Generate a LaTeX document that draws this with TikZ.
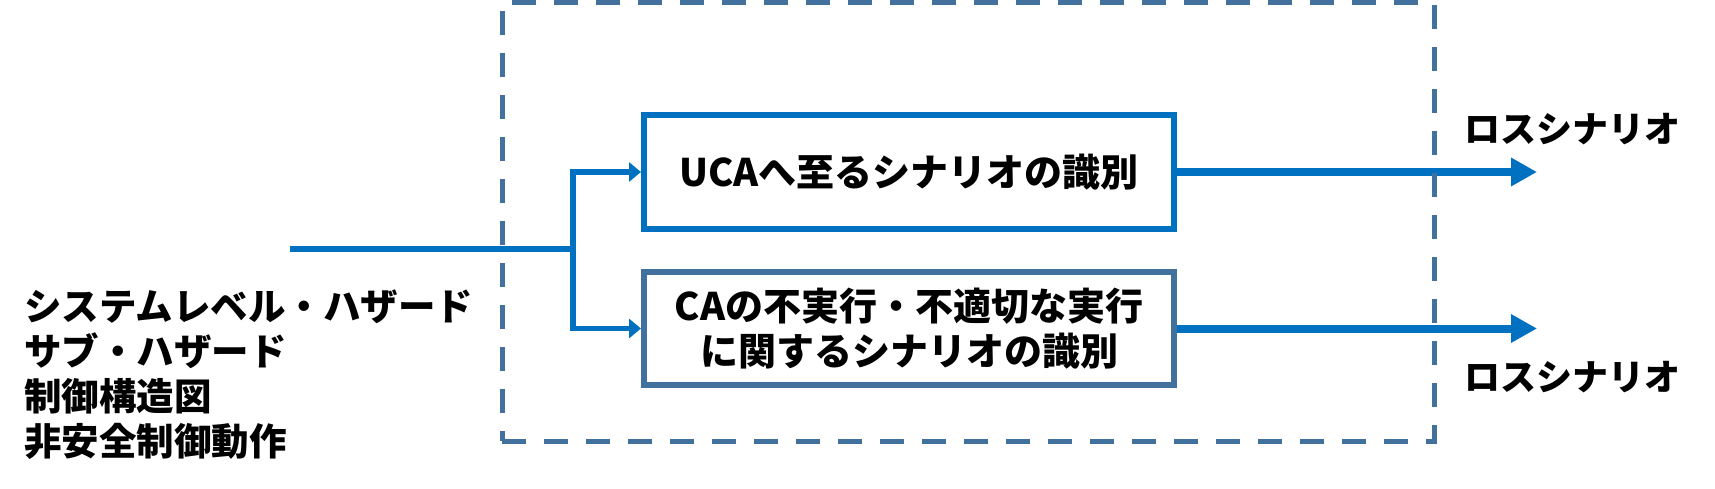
\documentclass[tikz,border=0pt]{standalone}
\usepackage{fontspec}
\newfontfamily\jp{Noto Sans CJK JP}
\usetikzlibrary{arrows.meta}
\definecolor{cblue}{HTML}{0070C0}
\definecolor{sblue}{HTML}{41719C}
\begin{document}
\begin{tikzpicture}[x=1pt,y=-1pt,
  procbox/.style={draw, line width=6pt, fill=white, inner sep=0pt, align=center,
    font=\jp\bfseries\fontsize{38pt}{45pt}\selectfont},
  framebox/.style={draw=sblue, line width=5pt, dash pattern=on 24pt off 18pt, inner sep=0pt},
  conn/.style={draw=cblue, line width=5.5pt},
  smallarrow/.style={conn, -{Triangle[length=12pt,width=19pt]}},
  bigarrow/.style={draw=cblue, line width=8pt, -{Triangle[length=26pt,width=27pt]}},
  label/.style={inner sep=0pt, anchor=west, font=\jp\bfseries\fontsize{36pt}{42pt}\selectfont},
  inputs/.style={inner sep=0pt, anchor=west, align=left, font=\jp\bfseries\fontsize{37.5pt}{45pt}\selectfont}
]
\useasboundingbox (0,0) rectangle (1715,489);

\node[procbox, draw=cblue, minimum width=530pt, minimum height=114pt] (top) at (909,172) {UCAへ至るシナリオの識別};
\node[procbox, draw=sblue, minimum width=530pt, minimum height=113pt] (bot) at (909,328.5) {CAの不実行・不適切な実行\\に関するシナリオの識別};

\coordinate (in) at (290,249);
\coordinate (br) at (573,249);
\coordinate (out1) at (1537,172);
\coordinate (out2) at (1537,328.5);

\draw[conn] (in) -- (br);
\draw[smallarrow] (br) |- (top.west);
\draw[smallarrow] (br) |- (bot.west);
\draw[bigarrow] (top.east) -- (out1);
\draw[bigarrow] (bot.east) -- (out2);

\node[framebox, minimum width=932pt, minimum height=438pt] (frame) at (968,222) {};

\node[label] (loss1) at (1464,129) {ロスシナリオ};
\node[label] (loss2) at (1464,377) {ロスシナリオ};

\node[inputs] (inp) at (24,375) {システムレベル・ハザード\\サブ・ハザード\\制御構造図\\非安全制御動作};
\end{tikzpicture}
\end{document}
